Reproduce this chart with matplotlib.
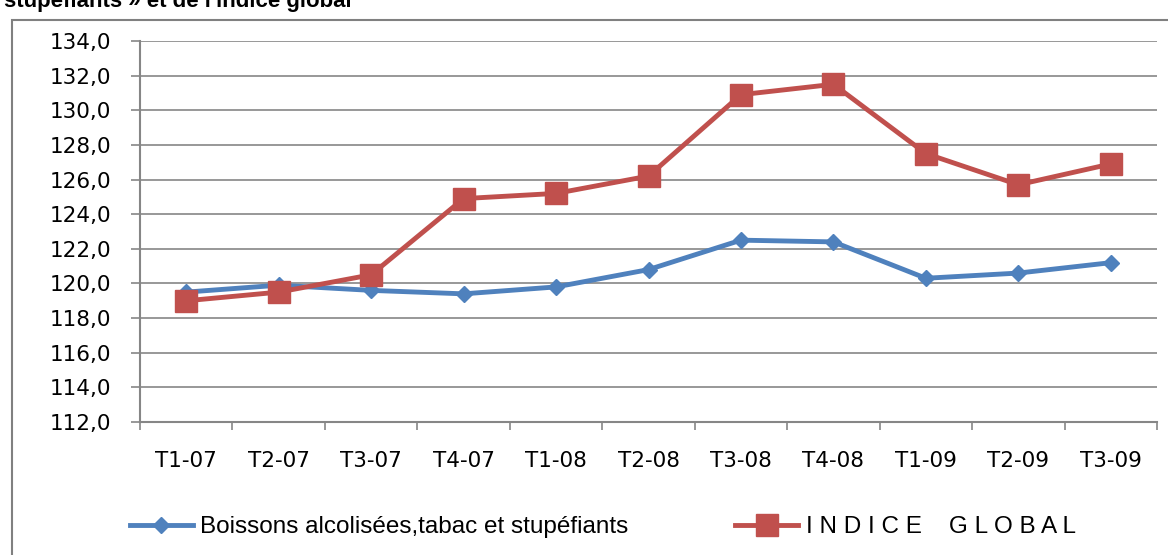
import numpy as np
import matplotlib
matplotlib.use('Agg')
import matplotlib.pyplot as plt
from matplotlib.patches import Rectangle
from matplotlib.ticker import FuncFormatter

# Data
categories = ['T1-07', 'T2-07', 'T3-07', 'T4-07', 'T1-08', 'T2-08',
              'T3-08', 'T4-08', 'T1-09', 'T2-09', 'T3-09']
boissons = [119.5, 119.9, 119.6, 119.4, 119.8, 120.8, 122.5, 122.4, 120.3, 120.6, 121.2]
indice_global = [119.0, 119.5, 120.5, 124.9, 125.2, 126.2, 130.9, 131.5, 127.5, 125.7, 126.9]
label_boissons = 'Boissons alcolisées,tabac et stupéfiants'
label_global = 'I N D I C E    G L O B A L'
y_ticks = np.arange(112, 134.1, 2)

W, H = 1168, 555
fig = plt.figure(figsize=(W / 100, H / 100), dpi=100)
plt.rcParams['font.family'] = ['DejaVu Sans']

# axes placed in pixel terms
left, right, top, bottom = 140, 1157, 41, 422
ax = fig.add_axes([left / W, 1 - bottom / H, (right - left) / W, (bottom - top) / H])

grey = '#868686'
x = np.arange(len(categories))
ax.plot(x, boissons, color='#4F81BD', lw=3.5, marker='D', ms=8.5, label=label_boissons)
ax.plot(x, indice_global, color='#C0504D', lw=3.5, marker='s', ms=16.5, label=label_global)

ax.set_xlim(-0.5, len(categories) - 0.5)
ax.set_ylim(112, 134)
ax.set_yticks(y_ticks)
ax.yaxis.set_major_formatter(FuncFormatter(lambda v, p: f'{v:.1f}'.replace('.', ',')))
ax.grid(axis='y', color=grey, lw=1.2)
ax.set_axisbelow(True)

ax.set_xticks(x)
ax.set_xticklabels(categories)
ax.set_xticks(np.arange(-0.5, len(categories)), minor=True)
ax.tick_params(axis='x', which='major', length=0, pad=21, labelsize=15.5)
ax.tick_params(axis='x', which='minor', length=6, width=1.2, color=grey, direction='out')
ax.tick_params(axis='y', length=6.5, width=1.2, color=grey, pad=14, labelsize=15.5)

for s in ['top', 'right']:
    ax.spines[s].set_visible(False)
for s in ['left', 'bottom']:
    ax.spines[s].set_color(grey)
    ax.spines[s].set_linewidth(1.5)

# legend under the plot
fig.legend(loc='center', bbox_to_anchor=(0.516, 1 - 527 / H), ncol=2, frameon=False,
           handlelength=2.6, handletextpad=0.3, columnspacing=4.4, markerscale=1.0,
           prop={'family': ['Liberation Sans'], 'size': 17.5})

# outer chart frame, cropped by the image edges
fig.add_artist(Rectangle((12 / W, -0.1), 1.2, (H - 20) / H + 0.1, transform=fig.transFigure,
                         fill=False, ec='#808080', lw=1.5))

# clipped title at the top of the picture
fig.text(4 / W, 1 - 7 / H, "stupéfiants » et de l'indice global", fontsize=16,
         family='Liberation Sans', fontweight='bold', va='baseline', ha='left')

fig.savefig('out.png', dpi=100)
